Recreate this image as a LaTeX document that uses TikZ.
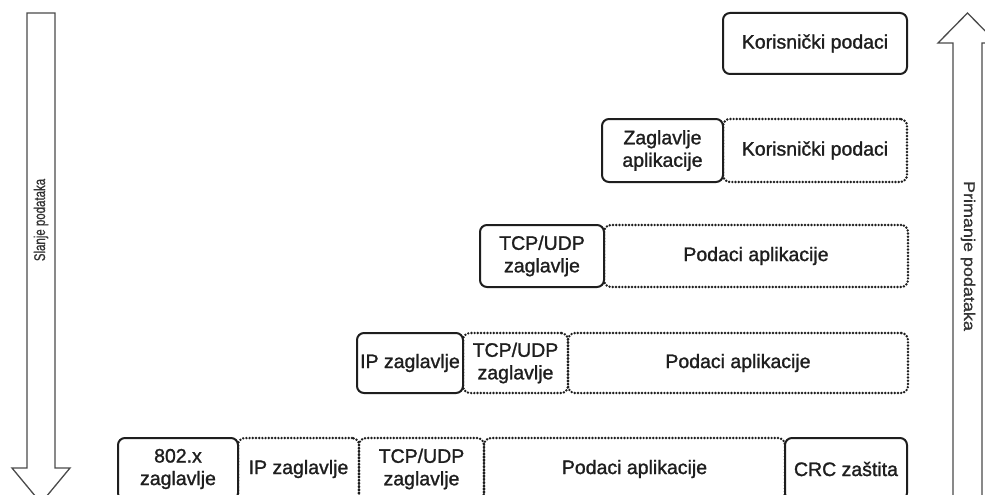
\documentclass[tikz,border=0pt]{standalone}
\usepackage{fontspec}
\setmainfont{Liberation Sans}
\newfontfamily\boxfont{Liberation Sans}[FakeBold=1.3]
\newfontfamily\arrowfont{Liberation Sans}[FakeBold=1.0]
\usepackage{graphicx}
\definecolor{ink}{HTML}{1E1E1E}
\definecolor{arrowgray}{HTML}{4A4A4A}
\definecolor{arrowtextgray}{HTML}{333333}
\begin{document}
\begin{tikzpicture}[x=1pt,y=-1pt,
  box/.style={rectangle, rounded corners=7pt, line width=2pt, draw=ink, text=ink,
    align=center, inner sep=0pt, font=\boxfont\fontsize{19.5}{22.5}\selectfont},
  solidbox/.style={box, fill=white},
  dotbox/.style={box, line width=2.7pt, line cap=round, dash pattern=on 0pt off 3.2pt},
  bigarrow/.style={draw=arrowgray, line width=1.3pt, fill=white, line join=miter},
  arrowtext/.style={text=arrowtextgray, inner sep=0pt, font=\arrowfont\fontsize{15.5}{17}\selectfont}]
\useasboundingbox (0,0) rectangle (985,495);
\clip (0,0) rectangle (985,495);
\fill[white] (0,0) rectangle (985,495);

% big arrows
\draw[bigarrow] (27,13) -- (55,13) -- (55,468) -- (70,468) -- (41,503) -- (12,468) -- (27,468) -- cycle;
\draw[bigarrow] (967.5,13) -- (997,43) -- (982,43) -- (982,530) -- (953,530) -- (953,43) -- (938,43) -- cycle;
\node[arrowtext, rotate=90] (slanje) at (41,220) {\scalebox{0.74}[1]{Slanje podataka}};
\node[arrowtext, rotate=-90] (primanje) at (968,256) {\scalebox{1.16}[1]{Primanje podataka}};

% row 1
\node[solidbox, minimum width=184pt, minimum height=61pt] (k1) at (815,43.5) {Korisnički podaci};

% row 2
\node[dotbox, minimum width=184pt, minimum height=63pt] (k2) at (815,150.5) {Korisnički podaci};
\node[solidbox, minimum width=121pt, minimum height=63pt] (z2) at (662.5,150.5) {Zaglavlje\\aplikacije};

% row 3
\node[dotbox, minimum width=304pt, minimum height=62pt] (p3) at (756,256) {Podaci aplikacije};
\node[solidbox, minimum width=124pt, minimum height=62pt] (t3) at (542,256) {TCP/UDP\\zaglavlje};

% row 4
\node[dotbox, minimum width=340pt, minimum height=60pt] (p4) at (738,363) {Podaci aplikacije};
\node[dotbox, minimum width=105pt, minimum height=60pt] (t4) at (515.5,363) {TCP/UDP\\zaglavlje};
\node[solidbox, minimum width=106pt, minimum height=60pt] (i4) at (410,363) {IP zaglavlje};

% row 5
\node[dotbox, minimum width=121pt, minimum height=62pt] (i5) at (298.5,469) {IP zaglavlje};
\node[dotbox, minimum width=125pt, minimum height=62pt] (t5) at (421.5,469) {TCP/UDP\\zaglavlje};
\node[dotbox, minimum width=301pt, minimum height=62pt] (p5) at (634.5,469) {Podaci aplikacije};
\node[solidbox, minimum width=120pt, minimum height=62pt] (e5) at (178,469) {802.x\\zaglavlje};
\node[solidbox, minimum width=122pt, minimum height=62pt] (c5) at (846,469) {CRC zaštita};
\end{tikzpicture}
\end{document}
